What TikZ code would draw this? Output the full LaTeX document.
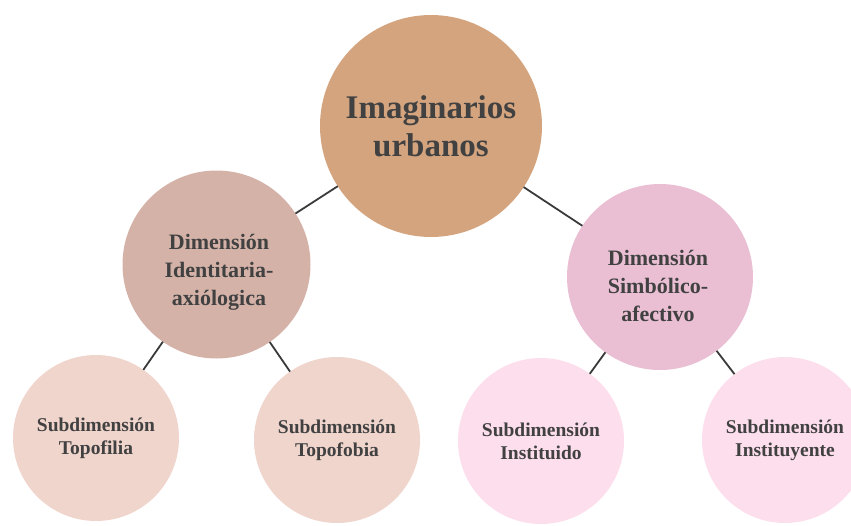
\documentclass[tikz,border=0pt]{standalone}
\usepackage{fontspec}
\setmainfont{Liberation Serif}
\usepackage{xcolor}
\usepackage{tikz}

\definecolor{tanfill}{HTML}{D4A47F}
\definecolor{rosefill}{HTML}{D4B2A8}
\definecolor{pinkfill}{HTML}{EABFD3}
\definecolor{palerose}{HTML}{F0D5CD}
\definecolor{palepink}{HTML}{FDDEEC}
\definecolor{txtgray}{HTML}{414141}
\definecolor{linegray}{HTML}{3A3A3A}

\begin{document}
\begin{tikzpicture}[x=1pt, y=-1pt,
    bubble/.style={circle, inner sep=0pt, outer sep=0pt, align=center,
        text=txtgray, font=\bfseries},
    midtext/.style={align=center, text=txtgray, inner sep=0pt,
        font=\bfseries\fontsize{22}{28}\selectfont},
    link/.style={draw=linegray, line width=1.8pt}]
                \useasboundingbox (0, 0) rectangle (851, 525);

                \node[bubble, fill=tanfill, minimum size=222pt, font=\bfseries\fontsize{33}{38}\selectfont] (imag) at (431, 126) {Imaginarios\\urbanos};
                \node[bubble, fill=rosefill, minimum size=188pt] (ident) at (216.5, 264.5) {};
                \node[bubble, fill=pinkfill, minimum size=186pt] (simb) at (660, 277) {};
                \node[midtext] (identtxt) at (219, 272) {Dimensión\\Identitaria-\\axiólogica};
                \node[midtext] (simbtxt) at (658, 286) {Dimensión\\Simbólico-\\afectivo};

                \node[bubble, fill=palerose, minimum size=166pt, font=\bfseries\fontsize{19.5}{23}\selectfont] (filia) at (96, 438) {Subdimensión\\Topofilia};
                \node[bubble, fill=palerose, minimum size=166pt, font=\bfseries\fontsize{19.5}{23}\selectfont] (fobia) at (337, 440) {Subdimensión\\Topofobia};
                \node[bubble, fill=palepink, minimum size=166pt, font=\bfseries\fontsize{19.5}{23}\selectfont] (inst) at (541, 441) {Subdimensión\\Instituido};
                \node[bubble, fill=palepink, minimum size=166pt, font=\bfseries\fontsize{19.5}{23}\selectfont] (instye) at (785, 440) {Subdimensión\\Instituyente};

                \draw[link] (imag) -- (ident);
                \draw[link] (imag) -- (simb);

                \draw[link] (ident) -- (filia);
                \draw[link] (ident) -- (fobia);

                \draw[link] (simb) -- (inst);
                \draw[link] (simb) -- (instye);
            \end{tikzpicture}
\end{document}
